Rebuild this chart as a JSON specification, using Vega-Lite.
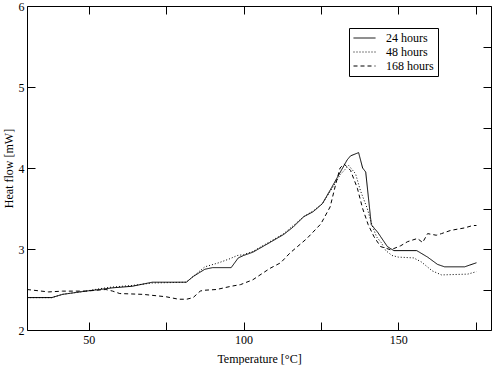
{
  "$schema": "https://vega.github.io/schema/vega-lite/v6.json",
  "autosize": "none",
  "width": 464,
  "height": 324,
  "padding": {"left": 27, "top": 6, "right": 2, "bottom": 35},
  "background": "white",
  "config": {
    "view": {"stroke": "#000", "strokeWidth": 1},
    "font": "Liberation Serif",
    "axis": {
      "grid": false,
      "domain": false,
      "ticks": true,
      "tickColor": "#000",
      "tickWidth": 1,
      "tickSize": -8,
      "labelColor": "#000",
      "labelFont": "Liberation Serif",
      "labelFontSize": 12,
      "titleFont": "Liberation Serif",
      "titleFontSize": 12,
      "titleFontWeight": "normal",
      "titleColor": "#000"
    },
    "legend": {
      "labelFont": "Liberation Serif",
      "labelFontSize": 12,
      "labelColor": "#000"
    }
  },
  "data": {"values": [
    {"t": 30, "hf": 2.40, "s": "24 hours"},
    {"t": 38, "hf": 2.40, "s": "24 hours"},
    {"t": 41.5, "hf": 2.44, "s": "24 hours"},
    {"t": 49, "hf": 2.48, "s": "24 hours"},
    {"t": 53.5, "hf": 2.50, "s": "24 hours"},
    {"t": 57.5, "hf": 2.52, "s": "24 hours"},
    {"t": 64, "hf": 2.54, "s": "24 hours"},
    {"t": 70.5, "hf": 2.59, "s": "24 hours"},
    {"t": 81.5, "hf": 2.59, "s": "24 hours"},
    {"t": 83.7, "hf": 2.66, "s": "24 hours"},
    {"t": 87.5, "hf": 2.75, "s": "24 hours"},
    {"t": 90, "hf": 2.77, "s": "24 hours"},
    {"t": 96, "hf": 2.77, "s": "24 hours"},
    {"t": 98.3, "hf": 2.89, "s": "24 hours"},
    {"t": 100, "hf": 2.92, "s": "24 hours"},
    {"t": 103, "hf": 2.96, "s": "24 hours"},
    {"t": 108.5, "hf": 3.08, "s": "24 hours"},
    {"t": 113, "hf": 3.18, "s": "24 hours"},
    {"t": 116, "hf": 3.27, "s": "24 hours"},
    {"t": 119.5, "hf": 3.40, "s": "24 hours"},
    {"t": 122.5, "hf": 3.46, "s": "24 hours"},
    {"t": 125.5, "hf": 3.56, "s": "24 hours"},
    {"t": 128.5, "hf": 3.76, "s": "24 hours"},
    {"t": 131.3, "hf": 3.95, "s": "24 hours"},
    {"t": 133.5, "hf": 4.10, "s": "24 hours"},
    {"t": 134.6, "hf": 4.15, "s": "24 hours"},
    {"t": 137.2, "hf": 4.19, "s": "24 hours"},
    {"t": 138.5, "hf": 4.00, "s": "24 hours"},
    {"t": 139.5, "hf": 3.95, "s": "24 hours"},
    {"t": 141.3, "hf": 3.30, "s": "24 hours"},
    {"t": 143.3, "hf": 3.21, "s": "24 hours"},
    {"t": 146.5, "hf": 3.03, "s": "24 hours"},
    {"t": 148.6, "hf": 2.98, "s": "24 hours"},
    {"t": 156, "hf": 2.98, "s": "24 hours"},
    {"t": 159.5, "hf": 2.90, "s": "24 hours"},
    {"t": 162.7, "hf": 2.81, "s": "24 hours"},
    {"t": 165, "hf": 2.78, "s": "24 hours"},
    {"t": 171.5, "hf": 2.78, "s": "24 hours"},
    {"t": 173, "hf": 2.80, "s": "24 hours"},
    {"t": 175.3, "hf": 2.83, "s": "24 hours"},

    {"t": 30, "hf": 2.40, "s": "48 hours"},
    {"t": 38, "hf": 2.40, "s": "48 hours"},
    {"t": 41.5, "hf": 2.44, "s": "48 hours"},
    {"t": 49, "hf": 2.48, "s": "48 hours"},
    {"t": 53.5, "hf": 2.51, "s": "48 hours"},
    {"t": 57.5, "hf": 2.53, "s": "48 hours"},
    {"t": 64, "hf": 2.55, "s": "48 hours"},
    {"t": 70.5, "hf": 2.58, "s": "48 hours"},
    {"t": 81.5, "hf": 2.59, "s": "48 hours"},
    {"t": 84, "hf": 2.67, "s": "48 hours"},
    {"t": 87.5, "hf": 2.78, "s": "48 hours"},
    {"t": 92, "hf": 2.83, "s": "48 hours"},
    {"t": 95.6, "hf": 2.88, "s": "48 hours"},
    {"t": 98, "hf": 2.92, "s": "48 hours"},
    {"t": 100, "hf": 2.93, "s": "48 hours"},
    {"t": 103, "hf": 2.97, "s": "48 hours"},
    {"t": 108.5, "hf": 3.09, "s": "48 hours"},
    {"t": 113, "hf": 3.19, "s": "48 hours"},
    {"t": 119.5, "hf": 3.40, "s": "48 hours"},
    {"t": 122.5, "hf": 3.47, "s": "48 hours"},
    {"t": 125.5, "hf": 3.56, "s": "48 hours"},
    {"t": 128.5, "hf": 3.74, "s": "48 hours"},
    {"t": 131.3, "hf": 3.92, "s": "48 hours"},
    {"t": 134, "hf": 4.03, "s": "48 hours"},
    {"t": 136.2, "hf": 3.93, "s": "48 hours"},
    {"t": 137.8, "hf": 3.72, "s": "48 hours"},
    {"t": 140, "hf": 3.50, "s": "48 hours"},
    {"t": 141.5, "hf": 3.30, "s": "48 hours"},
    {"t": 143, "hf": 3.15, "s": "48 hours"},
    {"t": 144.5, "hf": 3.08, "s": "48 hours"},
    {"t": 146, "hf": 2.98, "s": "48 hours"},
    {"t": 148, "hf": 2.92, "s": "48 hours"},
    {"t": 150, "hf": 2.90, "s": "48 hours"},
    {"t": 155, "hf": 2.89, "s": "48 hours"},
    {"t": 157.5, "hf": 2.84, "s": "48 hours"},
    {"t": 161, "hf": 2.73, "s": "48 hours"},
    {"t": 164, "hf": 2.68, "s": "48 hours"},
    {"t": 172.5, "hf": 2.69, "s": "48 hours"},
    {"t": 175.3, "hf": 2.72, "s": "48 hours"},

    {"t": 30, "hf": 2.50, "s": "168 hours"},
    {"t": 37, "hf": 2.47, "s": "168 hours"},
    {"t": 41.5, "hf": 2.48, "s": "168 hours"},
    {"t": 49, "hf": 2.48, "s": "168 hours"},
    {"t": 55.5, "hf": 2.50, "s": "168 hours"},
    {"t": 57.7, "hf": 2.48, "s": "168 hours"},
    {"t": 60, "hf": 2.45, "s": "168 hours"},
    {"t": 67.5, "hf": 2.44, "s": "168 hours"},
    {"t": 75, "hf": 2.41, "s": "168 hours"},
    {"t": 79, "hf": 2.38, "s": "168 hours"},
    {"t": 81.6, "hf": 2.38, "s": "168 hours"},
    {"t": 83.7, "hf": 2.40, "s": "168 hours"},
    {"t": 86, "hf": 2.48, "s": "168 hours"},
    {"t": 87, "hf": 2.49, "s": "168 hours"},
    {"t": 91.3, "hf": 2.50, "s": "168 hours"},
    {"t": 96, "hf": 2.54, "s": "168 hours"},
    {"t": 99, "hf": 2.56, "s": "168 hours"},
    {"t": 103, "hf": 2.62, "s": "168 hours"},
    {"t": 108.5, "hf": 2.76, "s": "168 hours"},
    {"t": 112, "hf": 2.83, "s": "168 hours"},
    {"t": 115, "hf": 2.95, "s": "168 hours"},
    {"t": 120.5, "hf": 3.13, "s": "168 hours"},
    {"t": 125, "hf": 3.31, "s": "168 hours"},
    {"t": 128, "hf": 3.52, "s": "168 hours"},
    {"t": 129.8, "hf": 3.80, "s": "168 hours"},
    {"t": 131.2, "hf": 4.00, "s": "168 hours"},
    {"t": 132.5, "hf": 4.05, "s": "168 hours"},
    {"t": 134.6, "hf": 3.97, "s": "168 hours"},
    {"t": 136.8, "hf": 3.75, "s": "168 hours"},
    {"t": 138.5, "hf": 3.50, "s": "168 hours"},
    {"t": 140.3, "hf": 3.30, "s": "168 hours"},
    {"t": 142.2, "hf": 3.15, "s": "168 hours"},
    {"t": 144.3, "hf": 3.03, "s": "168 hours"},
    {"t": 147.6, "hf": 2.99, "s": "168 hours"},
    {"t": 150.8, "hf": 3.04, "s": "168 hours"},
    {"t": 153, "hf": 3.09, "s": "168 hours"},
    {"t": 156.2, "hf": 3.13, "s": "168 hours"},
    {"t": 157.9, "hf": 3.08, "s": "168 hours"},
    {"t": 159.5, "hf": 3.19, "s": "168 hours"},
    {"t": 162.3, "hf": 3.17, "s": "168 hours"},
    {"t": 164, "hf": 3.19, "s": "168 hours"},
    {"t": 167, "hf": 3.23, "s": "168 hours"},
    {"t": 171.4, "hf": 3.26, "s": "168 hours"},
    {"t": 174.1, "hf": 3.29, "s": "168 hours"},
    {"t": 175.3, "hf": 3.29, "s": "168 hours"}
  ]},
  "resolve": {"axis": {"x": "independent", "y": "independent"}},
  "layer": [
    {
      "mark": {"type": "line", "color": "#000", "strokeWidth": 1, "clip": true},
      "encoding": {
        "x": {
          "field": "t", "type": "quantitative",
          "scale": {"domain": [30, 180], "nice": false, "zero": false},
          "axis": {
            "orient": "bottom",
            "title": "Temperature [°C]",
            "values": [50, 75, 100, 125, 150, 175],
            "format": "d",
            "labelExpr": "datum.value % 50 === 0 ? datum.label : ''",
            "labelPadding": 12,
            "titlePadding": 8,
            "encode": {"ticks": {"update": {"y2": {"signal": "datum.value % 50 === 0 ? -9 : -6"}}}}
          }
        },
        "y": {
          "field": "hf", "type": "quantitative",
          "scale": {"domain": [2, 6], "nice": false, "zero": false},
          "axis": {
            "orient": "left",
            "title": "Heat flow [mW]",
            "values": [2, 2.5, 3, 3.5, 4, 4.5, 5, 5.5, 6],
            "format": "d",
            "labelExpr": "datum.value % 1 === 0 ? datum.label : ''",
            "labelPadding": 11,
            "titleX": -19,
            "titleBaseline": "middle",
            "encode": {"ticks": {"update": {"x2": {"signal": "datum.value % 1 === 0 ? 9 : 5"}}}}
          }
        },
        "strokeDash": {
          "field": "s", "type": "nominal",
          "scale": {"domain": ["24 hours", "48 hours", "168 hours"], "range": [[1, 0], [1, 2], [4, 3]]},
          "legend": {
            "title": null,
            "orient": "none",
            "legendX": 322,
            "legendY": 22,
            "strokeColor": "#000",
            "fillColor": "white",
            "padding": 4,
            "symbolType": "M-1,0H3",
            "symbolSize": 121,
            "symbolStrokeWidth": 1,
            "symbolStrokeColor": "#000",
            "labelOffset": 21,
            "rowPadding": 2
          }
        }
      }
    },
    {
      "mark": {"type": "line", "opacity": 0},
      "encoding": {
        "x": {
          "field": "t", "type": "quantitative",
          "axis": {
            "orient": "top", "title": null, "labels": false,
            "values": [50, 75, 100, 125, 150, 175],
            "encode": {"ticks": {"update": {"y2": {"signal": "datum.value % 50 === 0 ? 9 : 6"}}}}
          }
        },
        "y": {
          "field": "hf", "type": "quantitative",
          "axis": {
            "orient": "right", "title": null, "labels": false,
            "values": [2, 2.5, 3, 3.5, 4, 4.5, 5, 5.5, 6],
            "encode": {"ticks": {"update": {"x2": {"signal": "datum.value % 1 === 0 ? -9 : -5"}}}}
          }
        }
      }
    }
  ]
}
